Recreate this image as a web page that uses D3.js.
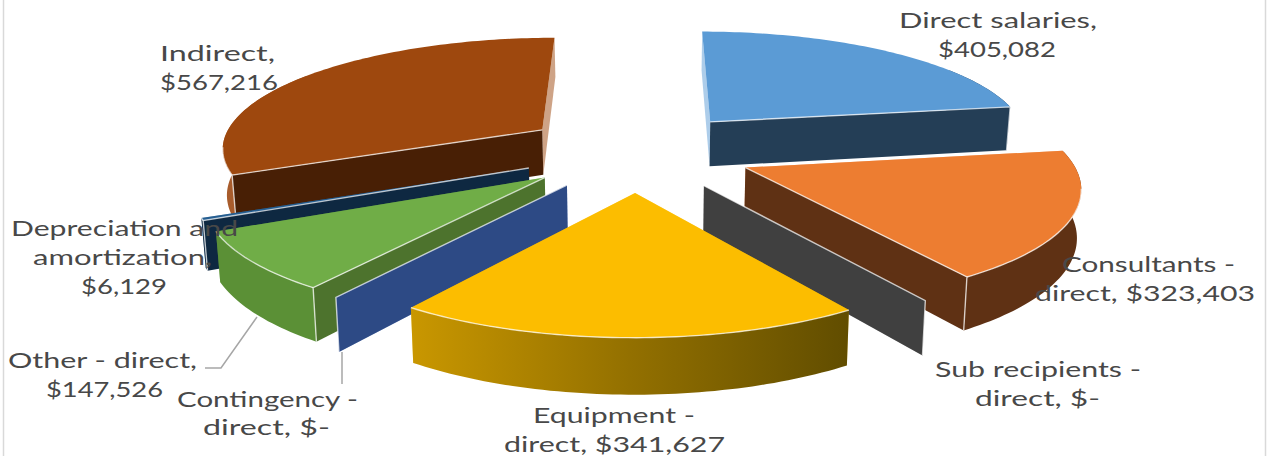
<!DOCTYPE html>
<html>
<head>
<meta charset="utf-8">
<script src="https://cdnjs.cloudflare.com/ajax/libs/d3/7.8.5/d3.min.js"></script>
<style>
html, body { margin: 0; padding: 0; background: #fff; overflow: hidden; }
text { font-family: Lato, "Open Sans", sans-serif; font-size: 21px; fill: #484848; }
</style>
</head>
<body>
<svg id="chart" width="1270" height="456"></svg>
<script>
var categories = ["Direct salaries", "Consultants - direct", "Sub recipients - direct", "Equipment - direct",
	"Contingency - direct", "Other - direct", "Depreciation and amortization", "Indirect"];
var amounts = [405082, 323403, 0, 341627, 0, 147526, 6129, 567216];
var topColors = ["#5b9bd5", "#ed7d31", "#a5a5a5", "#fcbd00", "#4472c4", "#70ad47", "#255e91", "#9e480e"];
var wallColors = ["#243e56", "#5f3114", "#404040", "url(#equipWall)", "#2d4a85", "#5b9036", "#0e2841", "#a85c2c"];
var radialColors = ["#243e56", "#5f3114", "#404040", "#665000", "#2d4a85", "#4d732d", "#0e2841", "#481f05"];
var labelLines = [
	["Direct salaries,", "$405,082"],
	["Consultants -", "direct, $323,403"],
	["Sub recipients -", "direct, $-"],
	["Equipment -", "direct, $341,627"],
	["Contingency -", "direct, $-"],
	["Other - direct,", "$147,526"],
	["Depreciation and", "amortization,", "$6,129"],
	["Indirect,", "$567,216"]
];
// left, right, baseline of each label line
var labelBoxes = [
	[[899, 1097, 28], [938, 1056, 57]],
	[[1062, 1235, 272], [1035, 1255, 301]],
	[[935, 1141, 377], [975, 1100, 406]],
	[[533, 695, 423], [504, 725, 452]],
	[[177, 358, 407], [203, 330, 435]],
	[[8, 197, 368], [46, 163, 397]],
	[[11, 238, 236], [33, 212, 265], [81, 167, 294]],
	[[160, 275, 61], [160, 278, 90]]
];

var svg = d3.select("#chart");

var defs = svg.append("defs");
var grad = defs.append("linearGradient").attr("id", "equipWall");
grad.append("stop").attr("offset", "0%").attr("stop-color", "#c99700");
grad.append("stop").attr("offset", "50%").attr("stop-color", "#937000");
grad.append("stop").attr("offset", "100%").attr("stop-color", "#614d00");

// frame
svg.append("rect").attr("x", 3.5).attr("y", -3).attr("width", 1262).attr("height", 462)
	.attr("fill", "none").attr("stroke", "#d9d9d9").attr("stroke-width", 1.5);

// perspective of the tilted disc
var vanishX = 643, horizon = -629, depthA = 323, depthB = 780, tilt = 0.142, shear = -6;
var wallDrop = 46, wallShrink = 0.99, explode = 0.36;

function project(x, y, down) {
	var w = 1 + tilt * y;
	var sx = vanishX + (depthA * x + shear) / w;
	var sy = horizon + depthB / w;
	if (down) {
		sy += wallDrop / w;
		sx = vanishX + (sx - vanishX) * wallShrink;
	}
	return [sx, sy];
}

var pie = d3.pie().sort(null).value(function (d) { return d; });
var slices = pie(amounts);
var line = d3.line();

function rim(d, a, down) {
	var mid = (d.startAngle + d.endAngle) / 2;
	return project(explode * Math.sin(mid) + Math.sin(a), explode * Math.cos(mid) + Math.cos(a), down);
}
function apex(d, down) {
	var mid = (d.startAngle + d.endAngle) / 2;
	return project(explode * Math.sin(mid), explode * Math.cos(mid), down);
}
function arcAngles(a0, a1) {
	var n = Math.max(2, Math.ceil((a1 - a0) / 0.02));
	return d3.range(n + 1).map(function (i) { return a0 + (a1 - a0) * i / n; });
}

// far slices first, the same way the overlaps go in the picture
var drawOrder = [0, 7, 6, 1, 5, 2, 4, 3];
var halfTurn = Math.PI;

drawOrder.forEach(function (i) {
	var d = slices[i];
	var g = svg.append("g").attr("class", "slice");
	var a0 = d.startAngle, a1 = d.endAngle;
	var startShows = a0 > halfTurn;
	var endShows = a1 <= halfTurn;

	function radialWall(a) {
		return line([apex(d, false), rim(d, a, false), rim(d, a, true), apex(d, true)]) + "Z";
	}

	// pale slivers of the walls facing away
	if (!startShows) g.append("path").attr("d", radialWall(a0)).attr("fill", topColors[i]).attr("opacity", 0.5);
	if (!endShows) g.append("path").attr("d", radialWall(a1)).attr("fill", topColors[i]).attr("opacity", 0.5);

	// outer wall, only the part that can be seen
	var w0 = Math.max(a0, 1.0), w1 = Math.min(a1, 5.3);
	if (w1 > w0) {
		var angles = arcAngles(w0, w1);
		var outer = angles.map(function (a) { return rim(d, a, false); })
			.concat(angles.slice().reverse().map(function (a) { return rim(d, a, true); }));
		g.append("path").attr("d", line(outer) + "Z").attr("fill", wallColors[i]);
	}

	if (startShows) g.append("path").attr("d", radialWall(a0)).attr("fill", radialColors[i]);
	if (endShows) g.append("path").attr("d", radialWall(a1)).attr("fill", radialColors[i]);

	// top face
	var top = [apex(d, false)].concat(arcAngles(a0, a1).map(function (a) { return rim(d, a, false); }));
	g.append("path").attr("d", line(top) + "Z").attr("fill", topColors[i]);

	// light bevel along the front edges
	var bevelPaths = [];
	if (startShows) bevelPaths.push([apex(d, false), rim(d, a0, false), rim(d, a0, true)]);
	if (endShows) bevelPaths.push([apex(d, false), rim(d, a1, false), rim(d, a1, true)]);
	var b0 = Math.max(a0, 1.75), b1 = Math.min(a1, 4.55);
	if (b1 > b0) bevelPaths.push(arcAngles(b0, b1).map(function (a) { return rim(d, a, false); }));
	bevelPaths.forEach(function (p) {
		g.append("path").attr("d", line(p)).attr("fill", "none")
			.attr("stroke", "#fff").attr("stroke-opacity", 0.7).attr("stroke-width", 1.4);
	});
});

// leader lines
var leaders = [[[205, 368], [221, 368], [257, 317]], [[342, 352], [342, 384]]];
leaders.forEach(function (p) {
	svg.append("path").attr("d", line(p)).attr("fill", "none").attr("stroke", "#a6a6a6").attr("stroke-width", 1.5);
});

// labels
labelLines.forEach(function (lines, i) {
	lines.forEach(function (s, j) {
		var box = labelBoxes[i][j];
		svg.append("text")
			.attr("x", box[0]).attr("y", box[2])
			.attr("textLength", box[1] - box[0])
			.attr("lengthAdjust", "spacingAndGlyphs")
			.text(s);
	});
});
</script>
</body>
</html>
